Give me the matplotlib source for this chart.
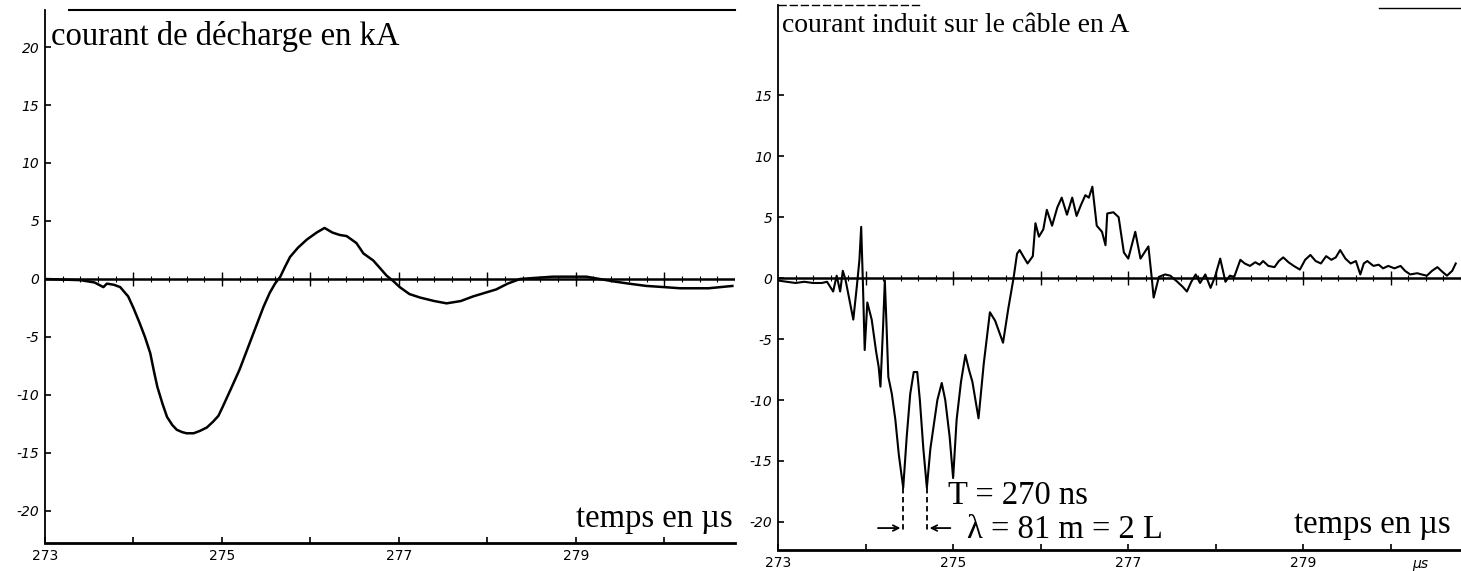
import numpy as np
import matplotlib.pyplot as plt

# discharge current (kA) vs time (us)
t_decharge = [273.00, 273.20, 273.40, 273.56, 273.66, 273.70, 273.78, 273.85, 273.94,
              274.00, 274.07, 274.13, 274.19, 274.23, 274.27, 274.33, 274.38, 274.44,
              274.49, 274.55, 274.60, 274.68, 274.75, 274.83, 274.90, 274.96, 275.01,
              275.10, 275.20, 275.30, 275.40, 275.47, 275.54, 275.60, 275.66, 275.71,
              275.77, 275.86, 275.96, 276.07, 276.16, 276.25, 276.33, 276.41, 276.52,
              276.60, 276.71, 276.78, 276.86, 276.94, 277.01, 277.12, 277.24, 277.40,
              277.54, 277.70, 277.84, 277.97, 278.10, 278.23, 278.37, 278.55, 278.74,
              278.93, 279.12, 279.42, 279.60, 279.80, 280.00, 280.18, 280.50, 280.77]
i_decharge = [0.0, -0.05, -0.1, -0.3, -0.7, -0.4, -0.5, -0.7, -1.5,
              -2.5, -3.8, -5.0, -6.4, -7.9, -9.3, -10.8, -11.9, -12.6,
              -13.0, -13.2, -13.3, -13.3, -13.1, -12.8, -12.3, -11.8, -11.0,
              -9.5, -7.8, -5.8, -3.8, -2.4, -1.2, -0.4, 0.2, 1.0,
              1.9, 2.7, 3.4, 4.0, 4.4, 4.0, 3.8, 3.7, 3.1,
              2.2, 1.6, 1.0, 0.3, -0.2, -0.7, -1.3, -1.6, -1.9,
              -2.1, -1.9, -1.5, -1.2, -0.9, -0.4, 0.0, 0.1, 0.2,
              0.2, 0.2, -0.2, -0.4, -0.6, -0.7, -0.8, -0.8, -0.6]

# induced current on the cable (A) vs time (us)
t_cable = [273.00, 273.10, 273.20, 273.30, 273.40, 273.50, 273.56, 273.63, 273.67, 273.71,
           273.74, 273.77, 273.80, 273.86, 273.90, 273.93, 273.95, 273.97, 273.99, 274.02,
           274.07, 274.12, 274.15, 274.17, 274.20, 274.22, 274.24, 274.26, 274.30, 274.34,
           274.38, 274.43, 274.47, 274.51, 274.55, 274.59, 274.62, 274.66, 274.70, 274.74,
           274.77, 274.82, 274.87, 274.91, 274.96, 275.00, 275.04, 275.09, 275.14, 275.18,
           275.22, 275.29, 275.35, 275.42, 275.48, 275.57, 275.63, 275.69, 275.73, 275.76,
           275.80, 275.85, 275.91, 275.94, 275.98, 276.03, 276.07, 276.13, 276.19, 276.24,
           276.30, 276.36, 276.41, 276.46, 276.51, 276.55, 276.59, 276.64, 276.70, 276.74,
           276.76, 276.83, 276.89, 276.95, 277.00, 277.08, 277.14, 277.23, 277.27, 277.29,
           277.35, 277.42, 277.48, 277.56, 277.62, 277.67, 277.72, 277.77, 277.82, 277.88,
           277.94, 277.99, 278.05, 278.11, 278.16, 278.21, 278.28, 278.33, 278.39, 278.45,
           278.50, 278.54, 278.60, 278.67, 278.72, 278.77, 278.83, 278.89, 278.96, 279.02,
           279.08, 279.14, 279.20, 279.26, 279.32, 279.37, 279.42, 279.48, 279.54, 279.60,
           279.65, 279.69, 279.73, 279.80, 279.86, 279.91, 279.97, 280.04, 280.11, 280.16,
           280.22, 280.30, 280.35, 280.41, 280.47, 280.53, 280.59, 280.64, 280.70, 280.74]
i_cable = [-0.2, -0.3, -0.4, -0.3, -0.4, -0.4, -0.3, -1.1, 0.2, -1.1,
           0.6, -0.1, -1.2, -3.4, -0.7, 1.5, 4.2, -0.5, -5.9, -2.0,
           -3.4, -6.0, -7.3, -8.9, -4.0, -0.2, -4.0, -8.1, -9.5, -11.6,
           -14.5, -17.2, -13.0, -9.5, -7.7, -7.7, -10.0, -14.0, -17.2, -14.0,
           -12.5, -10.0, -8.6, -10.0, -13.0, -16.4, -11.6, -8.5, -6.3, -7.5,
           -8.5, -11.5, -7.0, -2.8, -3.5, -5.3, -2.5, 0.0, 2.0, 2.3,
           1.8, 1.2, 1.8, 4.5, 3.4, 4.0, 5.6, 4.3, 5.8, 6.6,
           5.2, 6.6, 5.1, 6.0, 6.8, 6.6, 7.5, 4.3, 3.8, 2.7,
           5.3, 5.4, 5.0, 2.1, 1.6, 3.8, 1.6, 2.6, -0.1, -1.6,
           0.1, 0.3, 0.2, -0.3, -0.7, -1.1, -0.3, 0.3, -0.4, 0.3,
           -0.8, 0.1, 1.6, -0.3, 0.2, 0.1, 1.5, 1.2, 1.0, 1.3,
           1.1, 1.4, 1.0, 0.9, 1.4, 1.7, 1.3, 1.0, 0.7, 1.5,
           1.9, 1.4, 1.2, 1.8, 1.5, 1.7, 2.3, 1.6, 1.2, 1.4,
           0.3, 1.2, 1.4, 1.0, 1.1, 0.8, 1.0, 0.8, 1.0, 0.6,
           0.3, 0.4, 0.3, 0.2, 0.6, 0.9, 0.5, 0.2, 0.6, 1.2]

# two successive troughs 270 ns apart
t_creux = [274.43, 274.70]
i_creux = [-17.2, -17.2]

xticks_lab = [273, 275, 277, 279]
yticks_left = [20, 15, 10, 5, 0, -5, -10, -15, -20]
yticks_right = [15, 10, 5, 0, -5, -10, -15, -20]

W, H = 1461, 571
fig = plt.figure(figsize=(W / 100, H / 100), dpi=100)
serif = "Liberation Serif"
big = 23.5


def make_axes(x0, x1, ytop, ybot):
    return fig.add_axes([x0 / W, 1 - ybot / H, (x1 - x0) / W, (ybot - ytop) / H])


def style(ax, yticks, ylim):
    ax.set_xlim(273, 280.8)
    ax.set_ylim(*ylim)
    for s in ["top", "right"]:
        ax.spines[s].set_visible(False)
    ax.spines["left"].set_linewidth(1.3)
    ax.spines["bottom"].set_linewidth(2.0)
    ax.set_yticks(yticks)
    ax.set_yticklabels([str(v) for v in yticks], fontsize=10, style="italic")
    ax.set_xticks(np.arange(273, 281))
    ax.set_xticklabels([str(v) if v in xticks_lab else "" for v in range(273, 281)],
                       fontsize=10)
    ax.tick_params(direction="in", length=4, width=1.2, pad=4)
    # zero line with its small graduations
    ax.axhline(0, color="black", lw=1.8, zorder=1)
    fine = np.arange(273.2, 280.8, 0.2)
    ax.vlines(fine, -0.25, 0.25, color="black", lw=0.8)
    ax.vlines(np.arange(274, 281), -0.6, 0.6, color="black", lw=1.0)


# left panel: discharge current
ax1 = make_axes(45, 735, 10, 543)
style(ax1, yticks_left, (-22.76, 23.19))
ax1.plot(t_decharge, i_decharge, color="black", lw=1.8)
ax1.plot([0.035, 1.0], [1.0, 1.0], transform=ax1.transAxes, color="black", lw=1.5,
         clip_on=False)
ax1.text(273.07, 20.2, "courant de décharge en kA", fontsize=big, family=serif,
         va="baseline", ha="left")
ax1.text(280.77, -21.4, "temps en µs", fontsize=big, family=serif,
         va="baseline", ha="right")

# right panel: induced current on the cable
ax2 = make_axes(778, 1461, 5, 550)
style(ax2, yticks_right, (-22.3, 22.4))
ax2.text(280.34, -0.012, "µs", fontsize=10, ha="center", va="top", style="italic",
         transform=ax2.get_xaxis_transform())
ax2.plot(t_cable, i_cable, color="black", lw=1.5)
ax2.plot([0.0, 0.21], [1.0, 1.0], transform=ax2.transAxes, color="black", lw=1.0,
         ls=(0, (6, 2)), clip_on=False)
ax2.plot([0.88, 1.0], [0.995, 0.995], transform=ax2.transAxes, color="black", lw=1.0,
         clip_on=False)
ax2.text(273.05, 20.2, "courant induit sur le câble en A", fontsize=20, family=serif,
         va="baseline", ha="left")
ax2.text(280.68, -20.9, "temps en µs", fontsize=big, family=serif,
         va="baseline", ha="right")

# period between troughs
for t, v in zip(t_creux, i_creux):
    ax2.plot([t, t], [v, -20.9], color="black", lw=1.3, ls=(0, (3, 2)))
ax2.annotate("", xy=(t_creux[0], -20.5), xytext=(t_creux[0] - 0.32, -20.5),
             arrowprops=dict(arrowstyle="->", lw=1.3, color="black"))
ax2.annotate("", xy=(t_creux[1], -20.5), xytext=(t_creux[1] + 0.3, -20.5),
             arrowprops=dict(arrowstyle="->", lw=1.3, color="black"))
periode_ns = round((t_creux[1] - t_creux[0]) * 1000 / 10) * 10
ax2.text(274.94, -18.5, f"T = {periode_ns} ns", fontsize=big, family=serif,
         va="baseline", ha="left")
ax2.text(275.16, -21.3, "λ = 81 m = 2 L", fontsize=big, family=serif,
         va="baseline", ha="left")

fig.savefig("out.png", dpi=100)
